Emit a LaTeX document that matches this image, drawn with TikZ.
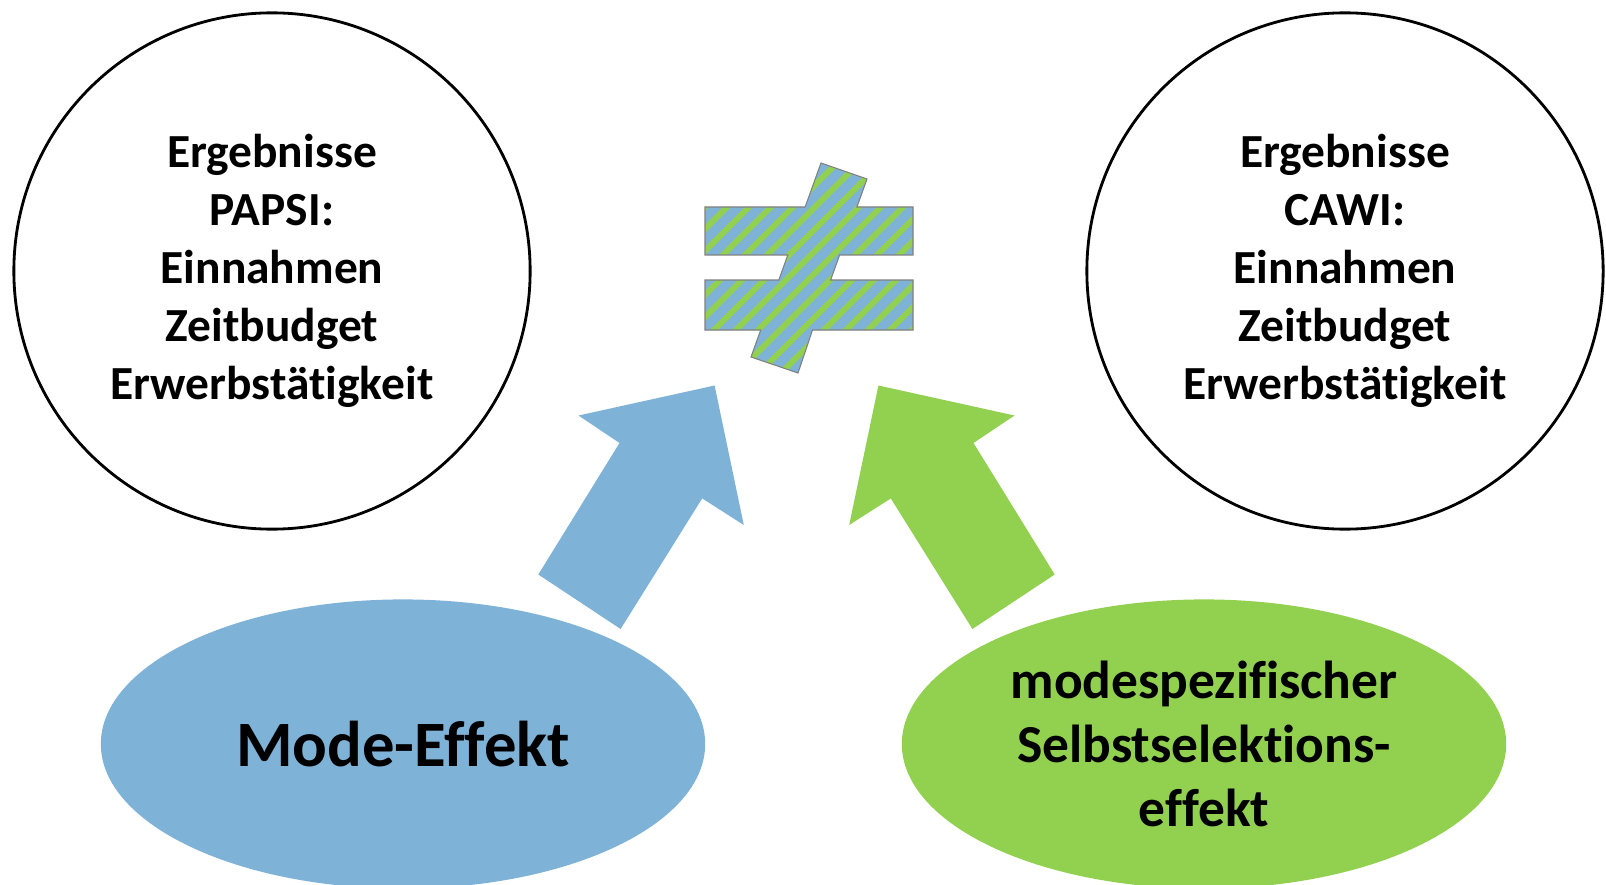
\documentclass[tikz,border=0pt]{standalone}
\usepackage{fontspec}
\setmainfont{Carlito}[Ligatures={NoCommon,NoContextual}]
\usetikzlibrary{shapes.geometric}
\definecolor{modeblue}{RGB}{127,178,215}
\definecolor{selectgreen}{RGB}{146,208,80}

\begin{document}
\begin{tikzpicture}[x=0.01cm, y=-0.01cm,
    result/.style={circle, draw, line width=0.8pt, minimum size=5.16cm, inner sep=0pt, align=center,
        font=\bfseries\fontsize{13.5}{16.5}\selectfont},
    effect/.style={ellipse, minimum width=6.04cm, minimum height=2.89cm, inner sep=0pt, align=center}]
    \useasboundingbox (0,0) rectangle (1606,885);
    \clip (0,0) rectangle (1606,885);

    % Ergebnisse der beiden Modi
    \node[result] (papsi) at (272,271) {Ergebnisse\\PAPSI:\\Einnahmen\\Zeitbudget\\Erwerbstätigkeit};
    \node[result] (cawi) at (1345,271) {Ergebnisse\\CAWI:\\Einnahmen\\Zeitbudget\\Erwerbstätigkeit};

    % Ursachen
    \node[effect, fill=modeblue, font=\bfseries\fontsize{18.4}{22}\selectfont] (mode) at (403,744) {Mode-Effekt};
    \node[effect, fill=selectgreen, font=\bfseries\fontsize{15.2}{18.2}\selectfont] (select) at (1204,744)
        {modespezifischer\\Selbstselektions-\\effekt};

    % Blockpfeile
    \fill[modeblue] (714.6,385.5) -- (743.8,525) -- (702.2,498.4) -- (620.6,629) -- (538.3,574.5) -- (619.5,443) -- (578.5,415.5) -- cycle;
    \fill[selectgreen] (878.4,385.5) -- (849.2,525) -- (890.8,498.4) -- (972.4,629) -- (1054.7,574.5) -- (973.5,443) -- (1014.5,415.5) -- cycle;

    % Ungleichheitszeichen, schraffiert
    \coordinate (neq) at (809,268);
    \begin{scope}
        \clip (821,163) -- (867,179) -- (856.9,207) -- (913,207) -- (913,255) -- (839.6,255) -- (830.6,280) -- (913,280)
            -- (913,330) -- (812.5,330) -- (798,373) -- (751,357) -- (760.7,330) -- (705,330) -- (705,280) -- (778.8,280)
            -- (787.8,255) -- (705,255) -- (705,207) -- (805.1,207) -- cycle;
        \fill[modeblue] (700,160) rectangle (920,380);
        \foreach \k in {-9,...,16}
            \draw[selectgreen, line width=1.7pt] (600+\k*22,400) -- ++(300,-300);
    \end{scope}
    \draw[gray, line width=0.3pt] (821,163) -- (867,179) -- (856.9,207) -- (913,207) -- (913,255) -- (839.6,255) -- (830.6,280) -- (913,280)
        -- (913,330) -- (812.5,330) -- (798,373) -- (751,357) -- (760.7,330) -- (705,330) -- (705,280) -- (778.8,280)
        -- (787.8,255) -- (705,255) -- (705,207) -- (805.1,207) -- cycle;
\end{tikzpicture}
\end{document}
